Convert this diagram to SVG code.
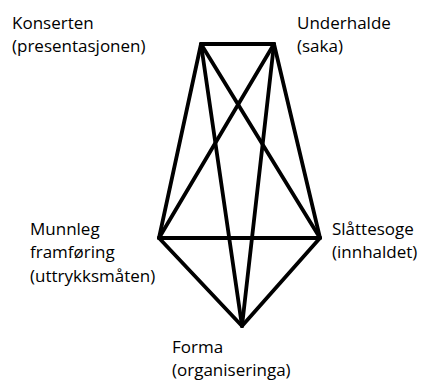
<svg xmlns="http://www.w3.org/2000/svg" width="421" height="380" viewBox="0 0 421 380">
<style>
text{font-family:"Open Sans","Noto Sans",sans-serif;font-size:17px;fill:#000}
.e{stroke:#000;stroke-width:3.8;stroke-linecap:round;fill:none}
</style>
<rect width="421" height="380" fill="#fff"/>
<g id="connectors">
<line class="e" x1="201" y1="44" x2="274" y2="44"/>
<line class="e" x1="201" y1="44" x2="159" y2="238"/>
<line class="e" x1="201" y1="44" x2="320" y2="238"/>
<line class="e" x1="201" y1="44" x2="242" y2="326"/>
<line class="e" x1="274" y1="44" x2="159" y2="238"/>
<line class="e" x1="274" y1="44" x2="320" y2="238"/>
<line class="e" x1="274" y1="44" x2="242" y2="326"/>
<line class="e" x1="159" y1="238" x2="320" y2="238"/>
<line class="e" x1="159" y1="238" x2="242" y2="326"/>
<line class="e" x1="320" y1="238" x2="242" y2="326"/>
</g>
<g id="konserten"><text x="12" y="29">Konserten</text><text x="12" y="52">(presentasjonen)</text></g>
<g id="underhalde"><text x="297" y="29">Underhalde</text><text x="297" y="52">(saka)</text></g>
<g id="munnleg"><text x="30" y="235">Munnleg</text><text x="30" y="258">framføring</text><text x="30" y="282">(uttrykksmåten)</text></g>
<g id="slattesoge"><text x="332" y="235">Slåttesoge</text><text x="332" y="258">(innhaldet)</text></g>
<g id="forma"><text x="172" y="353">Forma</text><text x="172" y="376">(organiseringa)</text></g>
</svg>
